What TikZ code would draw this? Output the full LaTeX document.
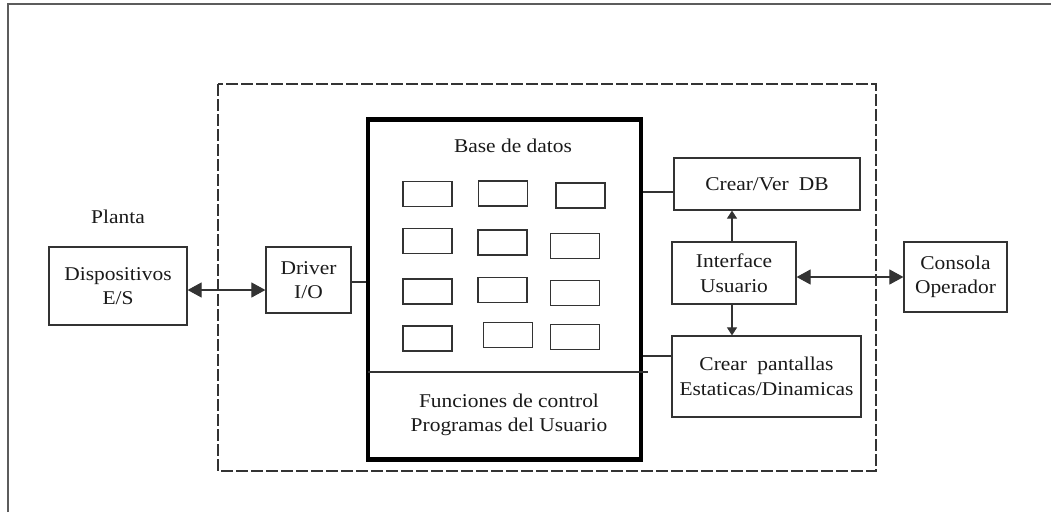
\documentclass[tikz,border=0pt]{standalone}
\usepackage{fontspec}
\setmainfont{Liberation Serif}[FakeStretch=1.1]
\usetikzlibrary{arrows.meta}
\definecolor{ink}{HTML}{1A1A1A}
\definecolor{edge}{HTML}{333333}
\begin{document}
\begin{tikzpicture}[x=1pt,y=-1pt,
  every node/.style={text=ink,font=\fontsize{19.5}{24.5}\selectfont},
  blk/.style={draw=edge,line width=1.2pt,align=center,inner sep=0pt},
  cell/.style={draw=edge,line width=1.2pt,minimum width=49pt,minimum height=25pt,inner sep=0pt},
  wire/.style={draw=edge,line width=1.1pt},
  bigtips/.style={wire,{Triangle[length=14pt,width=15pt]}-{Triangle[length=14pt,width=15pt]}},
  smalltip/.style={wire,-{Triangle[length=8pt,width=10pt]}}]
\useasboundingbox (0,0) rectangle (1051,512);

% page frame (only the top and left edges fall inside the sheet)
\draw[draw=edge!80,line width=1.6pt] (8,512) -- (8,4) -- (1051,4);

% system boundary
\draw[draw=edge,line width=1.1pt,dash pattern=on 12pt off 3pt] (218,84) rectangle (876,471);

% plant side
\node (planta) at (118,217) {Planta};
\node[blk,minimum width=138pt,minimum height=78pt] (disp) at (118,286) {Dispositivos\\E/S};
\node[blk,minimum width=85pt,minimum height=66pt] (drv) at (308.5,280) {Driver\\I/O};

% core: database and control functions
\node[draw=black,line width=4.5pt,minimum width=273pt,minimum height=340pt,inner sep=0pt] (core) at (504.5,289.5) {};
\node (bdtitle) at (513,146) {Base de datos};
\node[align=center] (func) at (509,415) {Funciones de control\\Programas del Usuario};
\draw[wire] (368,372) -- (648,372);

% database records
\node[cell] (c11) at (427.5,194) {};
\node[cell] (c12) at (503,193.5) {};
\node[cell] (c13) at (580.5,195.5) {};
\node[cell] (c21) at (427.5,241) {};
\node[cell] (c22) at (502.5,242.5) {};
\node[cell] (c23) at (575,246) {};
\node[cell] (c31) at (427.5,291.5) {};
\node[cell] (c32) at (502.5,290) {};
\node[cell] (c33) at (575,293) {};
\node[cell] (c41) at (427.5,338.5) {};
\node[cell] (c42) at (508,335) {};
\node[cell] (c43) at (575,337) {};

% operator side
\node[blk,minimum width=186pt,minimum height=52pt] (crv) at (767,184) {Crear/Ver\hspace{0.25em} DB};
\node[blk,minimum width=124pt,minimum height=62pt] (intf) at (734,273) {Interface\\Usuario};
\node[blk,minimum width=189pt,minimum height=81pt] (cp) at (766.5,376.5) {Crear\hspace{0.25em} pantallas\hspace{0.6em}\\Estaticas/Dinamicas};
\node[blk,minimum width=103pt,minimum height=70pt] (cons) at (955.5,277) {Consola\hspace{0.3em}\\Operador};

% connections
\draw[bigtips] ([yshift=-4pt]disp.east) -- ([yshift=-4pt]disp.east -| drv.west);
\draw[wire] ([yshift=-2pt]drv.east) -- ([yshift=-2pt]drv.east -| core.west);
\draw[wire] ([yshift=-8pt]crv.west) -- ([yshift=-8pt]crv.west -| core.east);
\draw[wire] ([yshift=20.5pt]cp.west) -- ([yshift=20.5pt]cp.west -| core.east);
\draw[smalltip] ([xshift=-2pt]intf.north) -- ([xshift=-2pt]intf.north |- crv.south);
\draw[smalltip] ([xshift=-2pt]intf.south) -- ([xshift=-2pt]intf.south |- cp.north);
\draw[bigtips] (cons.west -| intf.east) -- (cons.west);
\end{tikzpicture}
\end{document}
